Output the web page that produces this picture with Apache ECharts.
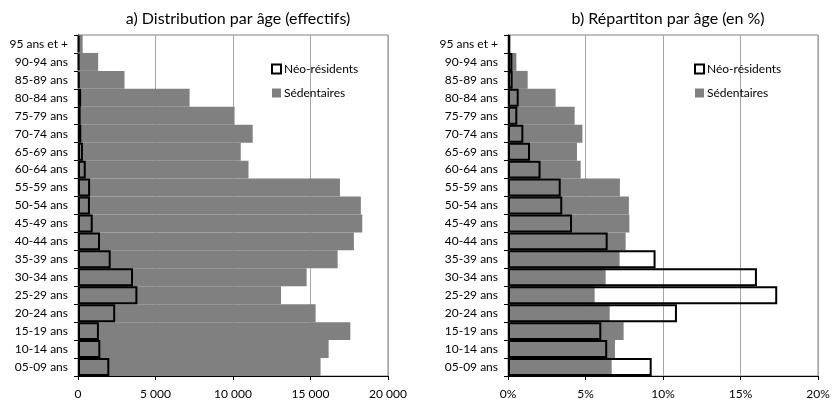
<!DOCTYPE html>
<html>
<head>
    <meta charset="utf-8">
    <title>Distribution par âge</title>
    <script src="https://cdn.jsdelivr.net/npm/echarts@6/dist/echarts.min.js"></script>
</head>
<body style="margin:0;background:#fff;">
    <div id="main" style="width: 836px;height:400px;"></div>
    <script type="text/javascript">
// categories, bottom to top
var ages = ['05-09 ans', '10-14 ans', '15-19 ans', '20-24 ans', '25-29 ans', '30-34 ans',
    '35-39 ans', '40-44 ans', '45-49 ans', '50-54 ans', '55-59 ans', '60-64 ans',
    '65-69 ans', '70-74 ans', '75-79 ans', '80-84 ans', '85-89 ans', '90-94 ans', '95 ans et +'];

// a) effectifs
var sedEff = [15650, 16170, 17570, 15330, 13100, 14750, 16750, 17800, 18340, 18250,
    16900, 11000, 10500, 11270, 10100, 7200, 3000, 1300, 300];
var neoEff = [2020, 1440, 1350, 2400, 3830, 3550, 2110, 1420, 950, 770,
    780, 500, 320, 210, 170, 200, 100, 80, 80];

// b) en %
var sedPct = [6.69, 6.9, 7.46, 6.56, 5.59, 6.3, 7.2, 7.59, 7.83, 7.8,
    7.22, 4.69, 4.45, 4.8, 4.3, 3.07, 1.27, 0.54, 0.13];
var neoPct = [9.27, 6.4, 6.02, 10.9, 17.37, 16.06, 9.52, 6.43, 4.13, 3.5,
    3.4, 2.1, 1.42, 0.99, 0.6, 0.69, 0.3, 0.28, 0.15];

var myChart = echarts.init(document.getElementById('main'));

var font = 'Lato';
var textCol = '#000';

function fmtThousands(v) {
    return String(v).replace(/\B(?=(\d{3})+(?!\d))/g, ' ');
}

function xAxisFor(grid, max, interval, fmt) {
    return {
        type: 'value', gridIndex: grid, min: 0, max: max, interval: interval,
        axisLine: { show: true, lineStyle: { color: '#000', width: 1 } },
        axisTick: { show: true, length: 4, lineStyle: { color: '#000' } },
        axisLabel: { color: textCol, fontFamily: font, fontSize: 12, margin: 12, formatter: fmt },
        splitLine: { show: true, lineStyle: { color: '#a6a6a6', width: 1 } }
    };
}

function yAxisFor(grid) {
    return {
        type: 'category', gridIndex: grid, data: ages, boundaryGap: true,
        axisLine: { show: true, lineStyle: { color: '#000', width: 1 } },
        axisTick: { show: true, length: 4, lineStyle: { color: '#000' } },
        axisLabel: { color: textCol, fontFamily: font, fontSize: 12, margin: 10, interval: 0 },
        splitLine: { show: false }
    };
}

function legendFor(left) {
    return {
        left: left, top: 58, orient: 'vertical', itemWidth: 9, itemHeight: 9, itemGap: 12,
        selectedMode: false,
        textStyle: { color: textCol, fontFamily: font, fontSize: 12, padding: [0, 0, 0, -2] },
        data: [
            { name: 'Néo-résidents', icon: 'rect', itemStyle: { color: '#fff', borderColor: '#000', borderWidth: 2 } },
            { name: 'Sédentaires', icon: 'rect', itemStyle: { color: '#808080', borderWidth: 0 } }
        ]
    };
}

function sedSeries(idx, data) {
    return {
        name: 'Sédentaires', type: 'bar', xAxisIndex: idx, yAxisIndex: idx, data: data,
        barCategoryGap: 0, barGap: '-100%',
        itemStyle: { color: '#808080' }, silent: true
    };
}

function neoSeries(idx, data) {
    return {
        name: 'Néo-résidents', type: 'bar', xAxisIndex: idx, yAxisIndex: idx, data: data,
        barCategoryGap: 0, barGap: '-100%',
        itemStyle: { color: 'rgba(255,255,255,0)', borderColor: '#000', borderWidth: 2 }, silent: true
    };
}

var option = {
    backgroundColor: '#ffffff',
    animation: false,
    title: [
        { text: 'a) Distribution par âge (effectifs)', left: 233, top: 6, textAlign: 'center',
          textStyle: { color: textCol, fontFamily: font, fontSize: 16, fontWeight: 'normal' } },
        { text: 'b) Répartiton par âge (en %)', left: 663, top: 6, textAlign: 'center',
          textStyle: { color: textCol, fontFamily: font, fontSize: 16, fontWeight: 'normal' } }
    ],
    legend: [legendFor(266), legendFor(689)],
    grid: [
        { left: 78, top: 35, width: 310, height: 342, show: true, borderColor: '#808080', borderWidth: 1 },
        { left: 508, top: 35, width: 310, height: 342, show: true, borderColor: '#808080', borderWidth: 1 }
    ],
    xAxis: [
        xAxisFor(0, 20000, 5000, fmtThousands),
        xAxisFor(1, 20, 5, function (v) { return v + '%'; })
    ],
    yAxis: [yAxisFor(0), yAxisFor(1)],
    series: [
        sedSeries(0, sedEff), neoSeries(0, neoEff),
        sedSeries(1, sedPct), neoSeries(1, neoPct)
    ]
};

myChart.setOption(option);
    </script>
</body>
</html>
